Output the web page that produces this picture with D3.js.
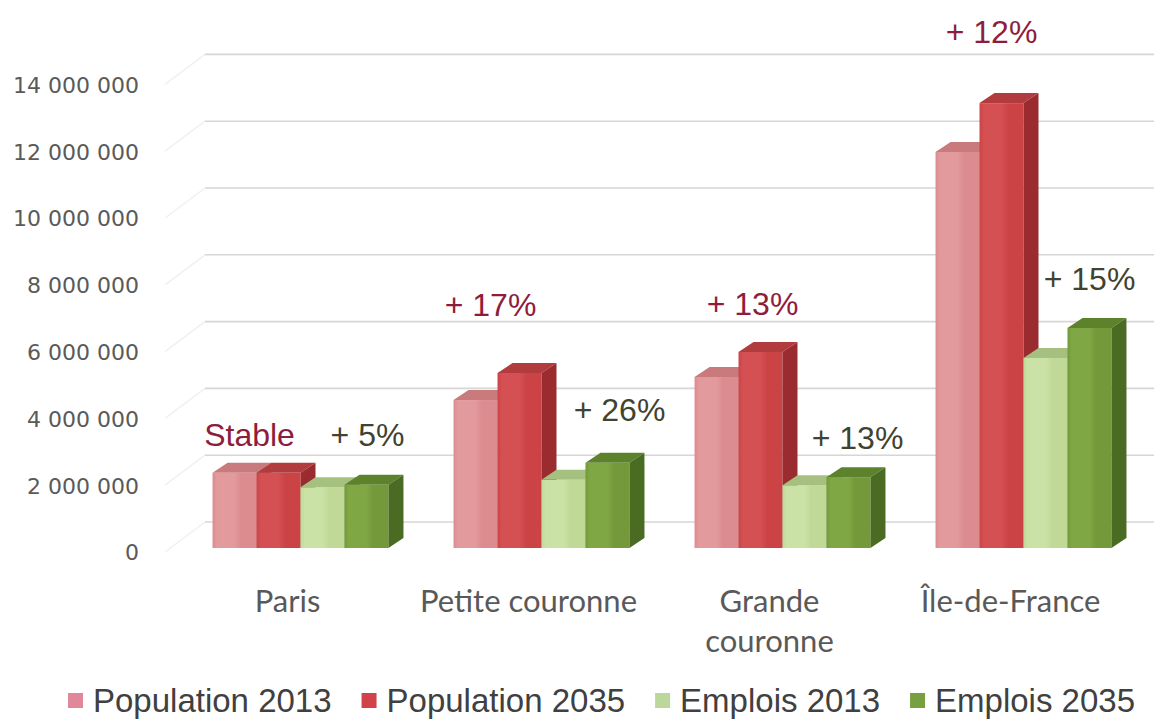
<!DOCTYPE html>
<html lang="fr">
<head>
<meta charset="utf-8">
<script src="https://cdn.jsdelivr.net/npm/d3@7"></script>
<style>
  html, body { margin: 0; padding: 0; background: #ffffff; }
  svg { display: block; }
</style>
</head>
<body>
<svg id="chart" width="1154" height="722"></svg>
<script>
// Territories shown on the x axis
const categories = ["Paris", "Petite couronne", "Grande couronne", "Île-de-France"];
const categoryLines = [["Paris"], ["Petite couronne"], ["Grande", "couronne"], ["Île-de-France"]];

// Series (inhabitants and jobs)
const seriesNames = ["Population 2013", "Population 2035", "Emplois 2013", "Emplois 2035"];
const population2013 = [2250000, 4430000, 5120000, 11860000];
const population2035 = [2250000, 5240000, 5870000, 13320000];
const emplois2013    = [1820000, 2040000, 1880000, 5690000];
const emplois2035    = [1890000, 2550000, 2120000, 6590000];

// Growth annotations 2013 -> 2035
const populationChange = ["Stable", "+ 17%", "+ 13%", "+ 12%"];
const emploisChange    = ["+ 5%", "+ 26%", "+ 13%", "+ 15%"];

// Value axis ticks
const yTicks = [0, 2000000, 4000000, 6000000, 8000000, 10000000, 12000000, 14000000];

// ---- layout & style ----
const seriesValues = [population2013, population2035, emplois2013, emplois2035];
const faceColors = [
  { front: ["#e39a9d", "#dc8b8f"], top: "#c97a7c", side: "#b96d70", legend: "#e0889a" },
  { front: ["#d45052", "#cc4346"], top: "#b23b3d", side: "#9a2c30", legend: "#d2424a" },
  { front: ["#cbe2a6", "#c0d997"], top: "#a6c080", side: "#98b174", legend: "#bcd79a" },
  { front: ["#7fa844", "#73993a"], top: "#5c822c", side: "#4a6b22", legend: "#78a040" }
];
const popTextColor = "#8e1d3d";
const empTextColor = "#3f4330";

// Annotation placement: lift above the 2035 bar (px) and centre relative to group start (px)
const popLabelLift = [27, 57, 37, 60];
const popLabelDx   = [37, 37, 58, 56];
const empLabelLift = [39, 42, 28, 38];
const empLabelDx   = [155, 166, 163, 154];

const depthDx = 15, depthDy = -10;   // oblique depth of each bar
const wallDx = 40, wallDy = -30;     // back wall offset from the front plane

const svg = d3.select("#chart");
const defs = svg.append("defs");

faceColors.forEach((c, i) => {
  const g = defs.append("linearGradient").attr("id", "front" + i)
    .attr("x1", "0").attr("x2", "1").attr("y1", "0").attr("y2", "0");
  g.append("stop").attr("offset", "0").attr("stop-color", c.front[1]);
  g.append("stop").attr("offset", "0.1").attr("stop-color", c.front[0]);
  g.append("stop").attr("offset", "0.5").attr("stop-color", c.front[0]);
  g.append("stop").attr("offset", "0.65").attr("stop-color", c.front[1]);
  g.append("stop").attr("offset", "1").attr("stop-color", c.front[1]);
});

// Front-plane value scale (used for the tick labels)
const y = d3.scaleLinear().domain([0, 14000000]).range([552, 84.4]);
const barBase = -4; // bars stand slightly behind the front plane

const x0 = d3.scaleBand().domain(categories).range([180, 1144])
  .paddingInner(0.27).paddingOuter(0.135);
const x1 = d3.scaleBand().domain(seriesNames).range([0, x0.bandwidth()]);

const frLocale = d3.formatLocale({ decimal: ",", thousands: " ", grouping: [3], currency: ["", " €"] });
const fmt = frLocale.format(",d");

// Back-wall gridlines and the faint side wall
const grid = svg.append("g");
yTicks.forEach(t => {
  const gy = y(t) + wallDy;
  grid.append("line")
    .attr("x1", 165).attr("y1", gy - wallDy)
    .attr("x2", 165 + wallDx).attr("y2", gy)
    .attr("stroke", "#f1f1f1").attr("stroke-width", 1.5);
  grid.append("line")
    .attr("x1", 165 + wallDx).attr("x2", 1154)
    .attr("y1", gy).attr("y2", gy)
    .attr("stroke", "#d6d6d6").attr("stroke-width", 1.6);
});

// Y axis labels
const yAxis = d3.axisLeft(y).tickValues(yTicks).tickFormat(fmt).tickSize(0).tickPadding(0);
const yg = svg.append("g").attr("transform", "translate(139,0)").call(yAxis);
yg.select(".domain").remove();
yg.selectAll("text")
  .attr("font-family", "'DejaVu Sans', sans-serif")
  .attr("font-size", 22)
  .attr("fill", "#5a5a5a")
  .attr("dy", "0.36em");

// 3D bars
const bars = svg.append("g");
categories.forEach((cat, ci) => {
  seriesNames.forEach((s, si) => {
    const v = seriesValues[si][ci];
    const xl = x0(cat) + x1(s);
    const xr = xl + x1.bandwidth();
    const yb = y(0) + barBase;
    const yt = y(v) + barBase;
    const c = faceColors[si];
    // front face
    bars.append("rect")
      .attr("x", xl).attr("y", yt)
      .attr("width", xr - xl).attr("height", yb - yt)
      .attr("fill", `url(#front${si})`);
    // top face
    bars.append("path")
      .attr("d", `M${xl},${yt} L${xl + depthDx},${yt + depthDy} L${xr + depthDx},${yt + depthDy} L${xr},${yt} Z`)
      .attr("fill", c.top);
    // right side face
    bars.append("path")
      .attr("d", `M${xr},${yt} L${xr + depthDx},${yt + depthDy} L${xr + depthDx},${yb + depthDy} L${xr},${yb} Z`)
      .attr("fill", c.side);
  });
});

// Growth annotations
const ann = svg.append("g")
  .attr("font-family", "'Liberation Sans', Arial, sans-serif")
  .attr("font-size", 32)
  .attr("text-anchor", "middle");
categories.forEach((cat, ci) => {
  const gx = x0(cat);
  ann.append("text")
    .attr("x", gx + popLabelDx[ci])
    .attr("y", y(population2035[ci]) + barBase - popLabelLift[ci])
    .attr("fill", popTextColor)
    .text(populationChange[ci]);
  ann.append("text")
    .attr("x", gx + empLabelDx[ci])
    .attr("y", y(emplois2035[ci]) + barBase - empLabelLift[ci])
    .attr("fill", empTextColor)
    .text(emploisChange[ci]);
});

// Category labels on the front plane
const cats = svg.append("g")
  .attr("font-family", "Lato, sans-serif")
  .attr("font-size", 31)
  .attr("fill", "#595959")
  .attr("text-anchor", "middle");
categories.forEach((cat, ci) => {
  const cx = x0(cat) + x0.bandwidth() / 2 - 13;
  const t = cats.append("text").attr("x", cx).attr("y", 612);
  categoryLines[ci].forEach((line, li) => {
    t.append("tspan").attr("x", cx).attr("dy", li === 0 ? 0 : 40).text(line);
  });
});

// Legend
const legend = svg.append("g")
  .attr("font-family", "'Liberation Sans', Arial, sans-serif")
  .attr("font-size", 33)
  .attr("fill", "#404040");
let lx = 68;
seriesNames.forEach((s, si) => {
  legend.append("rect")
    .attr("x", lx).attr("y", 693).attr("width", 15).attr("height", 15)
    .attr("fill", faceColors[si].legend);
  const t = legend.append("text").attr("x", lx + 25).attr("y", 712).text(s);
  const w = t.node().getComputedTextLength();
  lx += 25 + w + 30;
});
</script>
</body>
</html>
